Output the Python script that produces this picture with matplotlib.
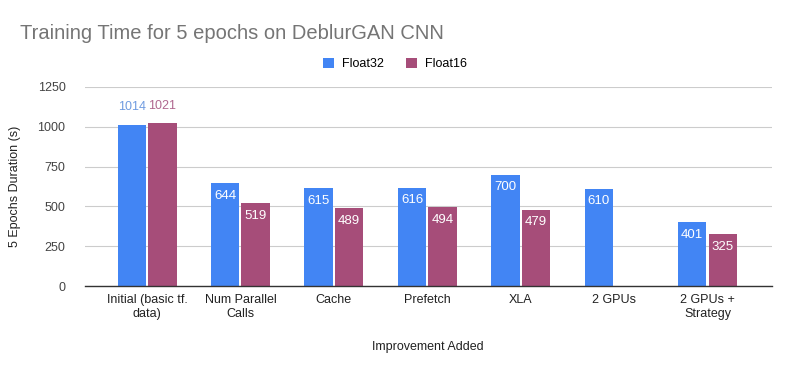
import matplotlib
matplotlib.use("Agg")
import matplotlib.pyplot as plt
import numpy as np

plt.rcParams['font.family'] = ['Liberation Sans', 'DejaVu Sans']

categories = ['Initial (basic tf.\ndata)', 'Num Parallel\nCalls', 'Cache', 'Prefetch',
              'XLA', '2 GPUs', '2 GPUs +\nStrategy']
float32 = [1014, 644, 615, 616, 700, 610, 401]
float16 = [1021, 519, 489, 494, 479, np.nan, 325]

blue = '#4285F4'
purple = '#A64D79'

fig = plt.figure(figsize=(7.9, 3.71), dpi=100)
ax = fig.add_axes([0.1076, 0.229, 0.869, 0.5365])

x = np.arange(len(categories))
w = 0.305
gap = 0.011
b1 = ax.bar(x - w / 2 - gap, float32, w, color=blue, label='Float32', zorder=3)
b2 = ax.bar(x + w / 2 + gap, float16, w, color=purple, label='Float16', zorder=3)

# value labels: inside the bar in white, above it when the bar is near the top
for bars, vals, txtcol in [(b1, float32, '#6F9BE0'), (b2, float16, '#B0678F')]:
    for rect, v in zip(bars, vals):
        if np.isnan(v):
            continue
        cx = rect.get_x() + rect.get_width() / 2
        if v > 900:
            ax.annotate(str(int(v)), (cx, v), xytext=(0, 12.5), textcoords='offset points',
                        ha='center', va='center', fontsize=9, color=txtcol, zorder=4)
        else:
            ax.annotate(str(int(v)), (cx, v), xytext=(0, -9), textcoords='offset points',
                        ha='center', va='center', fontsize=9.5, color='white', zorder=4)

ax.set_xlim(-0.664, 6.685)
ax.set_ylim(0, 1250)
ax.set_yticks([0, 250, 500, 750, 1000, 1250])
ax.set_xticks(x)
ax.set_xticklabels(categories, fontsize=9, color='#222222', linespacing=1.15)
ax.tick_params(axis='y', labelsize=9, colors='#444444', length=0, pad=14)
ax.tick_params(axis='x', length=0, pad=6)
ax.grid(axis='y', color='#CCCCCC', linewidth=0.8, zorder=0)
for s in ['top', 'right', 'left']:
    ax.spines[s].set_visible(False)
ax.spines['bottom'].set_color('#333333')
ax.spines['bottom'].set_linewidth(1.0)
ax.spines['bottom'].set_zorder(5)

ax.set_ylabel('5 Epochs Duration (s)', fontsize=9, color='#222222', labelpad=12)
ax.set_xlabel('Improvement Added', fontsize=9, color='#222222', labelpad=15)

fig.text(0.025, 0.91, 'Training Time for 5 epochs on DeblurGAN CNN', fontsize=14.5,
         color='#757575', va='center', ha='left')

leg = fig.legend(handles=[b1, b2], loc='center', bbox_to_anchor=(0.5, 0.828), ncol=2,
                 frameon=False, fontsize=9, handlelength=0.9, handleheight=0.9,
                 columnspacing=1.8, handletextpad=0.6)

fig.savefig('out.png', dpi=100, facecolor='white')
